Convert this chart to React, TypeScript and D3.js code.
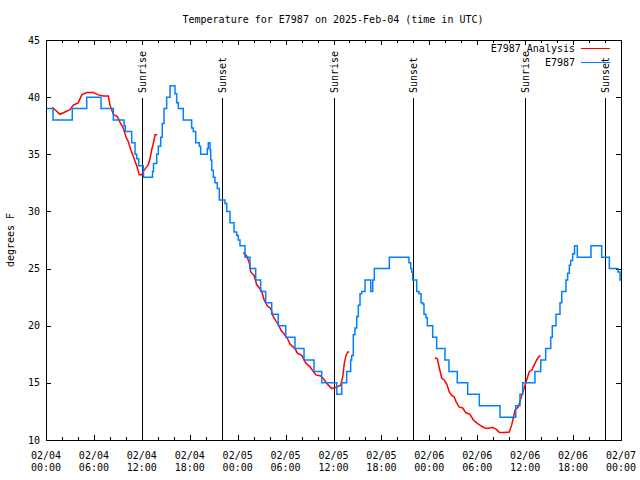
import React from "react";
import * as d3 from "d3";

// Hours since 2025-02-04 00:00 UTC
const obsHours = [0, 0.88, 3.29, 5.1, 6.89, 8.43, 9.77, 9.93, 10.73, 11.15, 11.36, 11.61, 12.18, 12.21, 13.34, 13.46, 13.86, 14.06, 14.36, 14.56, 14.78, 15.11, 15.53, 16.15, 16.36, 16.57, 17.19, 18.24, 18.44, 18.75, 19.2, 19.37, 20.2, 20.32, 20.54, 20.62, 20.75, 20.95, 21.16, 21.45, 21.7, 22.41, 22.63, 23.04, 23.54, 23.88, 24.08, 24.29, 24.92, 25.54, 26.26, 26.88, 27.51, 28.26, 29.09, 30.02, 31.18, 32.31, 33.56, 34.52, 36.4, 37.03, 37.65, 38.15, 38.28, 38.48, 38.69, 38.91, 39.11, 39.32, 39.53, 39.95, 40.66, 40.91, 41.11, 42.99, 45.45, 45.67, 45.79, 45.92, 46.42, 46.71, 46.96, 47.17, 47.33, 47.58, 47.75, 48.42, 48.92, 49.96, 50.46, 51.5, 52.8, 54.26, 56.85, 58.82, 59.35, 59.69, 61.23, 61.95, 62.57, 63.2, 63.4, 63.86, 64.36, 64.58, 65.11, 65.32, 65.53, 65.7, 65.95, 66.18, 66.53, 68.24, 69.58, 70.54, 71.63, 71.88, 72];
const obsTemps = [39, 38, 39, 40, 39, 38, 37.5, 37, 36, 35, 34.6, 34, 33.5, 33, 33.5, 34.2, 35, 35.7, 36.5, 37.7, 39, 40, 41, 40.3, 39.5, 39, 38, 37.3, 37, 36, 35.7, 35, 35.5, 36, 35.4, 34.5, 33.6, 33, 32.5, 32, 31, 30.7, 30, 29, 28.2, 27.9, 27.5, 27, 26, 25, 24, 23, 22, 21, 20, 19, 18, 17, 16, 15, 14, 15, 16, 17, 17.4, 19.2, 19.8, 20.8, 21.8, 22.8, 23, 24, 23, 24, 25, 26, 25.5, 25, 24.7, 24, 23, 22.8, 22, 21.9, 21, 20.7, 20, 19, 18, 17, 16, 15, 14, 13, 12, 13, 14, 15, 16, 17, 18, 19, 20, 21, 22, 23, 24, 24.6, 25.3, 25.7, 26.3, 27, 26, 27, 26, 25, 24.7, 24, 24];

const anaHours1 = [0.79, 1.13, 1.75, 2.38, 3.01, 3.42, 4.04, 4.47, 5.1, 5.92, 6.55, 7.18, 7.8, 8.01, 8.43, 8.93, 9.27, 9.68, 10.02, 10.31, 10.61, 10.93, 11.36, 11.68, 11.98, 12.27, 12.61, 12.81, 13.02, 13.24, 13.52, 13.65, 13.94];
const anaTemps1 = [39.1, 38.9, 38.5, 38.7, 38.9, 39.3, 39.5, 40.2, 40.4, 40.4, 40.2, 40.1, 40.1, 39.3, 38.5, 38.3, 37.8, 37.3, 36.5, 36.1, 35.4, 34.8, 34.0, 33.2, 33.2, 33.6, 33.9, 34.1, 34.6, 35.4, 36.2, 36.7, 36.7];
const anaHours2 = [24.71, 25.13, 25.46, 25.63, 26.05, 26.38, 26.71, 27.01, 27.34, 27.76, 28.14, 28.46, 28.8, 29.09, 29.43, 29.8, 30.22, 30.55, 31.18, 31.47, 32.02, 32.56, 33.06, 33.47, 33.81, 34.4, 34.81, 35.35, 35.78, 36.19, 36.6, 36.9, 37.15, 37.35, 37.57, 37.78, 37.98];
const anaTemps2 = [26.4, 26.1, 25.5, 24.7, 24.4, 23.6, 23.3, 23.0, 22.2, 21.7, 21.5, 20.8, 20.4, 20.1, 19.6, 19.3, 18.9, 18.4, 18.0, 17.6, 17.4, 16.7, 16.4, 16.0, 15.7, 15.6, 15.3, 14.8, 14.5, 14.6, 14.7, 14.8, 15.5, 16.7, 17.4, 17.7, 17.7];
const anaHours3 = [48.71, 49.0, 49.25, 49.55, 49.87, 50.18, 50.5, 50.8, 51.09, 51.34, 51.72, 52.18, 52.55, 53.09, 53.51, 54.01, 54.56, 55.1, 55.94, 56.44, 56.76, 57.35, 58.01, 58.31, 58.51, 58.72, 59.14, 59.57, 59.86, 60.19, 60.52, 60.82, 61.15, 61.44, 61.77, 61.94];
const anaTemps3 = [17.2, 17.1, 16.3, 15.4, 15.25, 14.9, 14.2, 13.9, 13.8, 13.35, 12.9, 12.8, 12.4, 12.25, 11.75, 11.45, 11.2, 11.0, 11.1, 10.9, 10.65, 10.65, 10.7, 11.3, 11.9, 12.6, 12.9, 13.9, 14.5, 15.25, 16.0, 16.1, 16.6, 17.0, 17.35, 17.35];

const eventHours = [12, 22, 36, 46, 60, 70];
const eventLabels = ["Sunrise", "Sunset", "Sunrise", "Sunset", "Sunrise", "Sunset"];

const xTickHours = [0, 6, 12, 18, 24, 30, 36, 42, 48, 54, 60, 66, 72];
const xTickDates = ["02/04", "02/04", "02/04", "02/04", "02/05", "02/05", "02/05", "02/05", "02/06", "02/06", "02/06", "02/06", "02/07"];
const xTickTimes = ["00:00", "06:00", "12:00", "18:00", "00:00", "06:00", "12:00", "18:00", "00:00", "06:00", "12:00", "18:00", "00:00"];
const yTicks = [10, 15, 20, 25, 30, 35, 40, 45];

const title = "Temperature for E7987 on 2025-Feb-04 (time in UTC)";
const yLabel = "degrees F";
const seriesNames = ["E7987 Analysis", "E7987"];
const seriesColors = ["#ff0000", "#0080ff"];

export default function App() {
  const W = 640, H = 480;
  const L = 46, R = 621, T = 40, B = 440;
  const x = d3.scaleLinear().domain([0, 72]).range([L, R]);
  const y = d3.scaleLinear().domain([10, 45]).range([B, T]);
  const font = "'DejaVu Sans Mono', 'Liberation Mono', monospace";

  const stepLine = d3.line<number>().x((_, i) => x(obsHours[i])).y((d) => y(d)).curve(d3.curveStepAfter);
  const mkLine = (hs: number[]) => d3.line<number>().x((_, i) => x(hs[i])).y((d) => y(d));

  const minorTicks = d3.range(0, 73, 2);

  return (
    <svg width={W} height={H} style={{ position: "absolute", left: 0, top: 0, background: "#fff" }} fontFamily={font} fontSize={10}>
      <rect x={0} y={0} width={W} height={H} fill="#fff" />
      <text x={333} y={23} textAnchor="middle">{title}</text>
      {/* ticks */}
      <g stroke="#000" strokeWidth={1} shapeRendering="crispEdges">
        {minorTicks.map((h) => {
          const major = h % 6 === 0;
          const len = major ? 5 : 3;
          const xx = Math.round(x(h)) + 0.5;
          return (
            <g key={h}>
              <line x1={xx} x2={xx} y1={B} y2={B - len} />
              <line x1={xx} x2={xx} y1={T} y2={T + len} />
            </g>
          );
        })}
        {yTicks.map((t) => {
          const yy = Math.round(y(t)) + 0.5;
          return (
            <g key={t}>
              <line x1={L} x2={L + 5} y1={yy} y2={yy} />
              <line x1={R} x2={R - 5} y1={yy} y2={yy} />
            </g>
          );
        })}
      </g>
      {/* y tick labels */}
      {yTicks.map((t) => (
        <text key={t} x={40} y={y(t)} dy="0.35em" textAnchor="end">{t}</text>
      ))}
      {/* x tick labels */}
      {xTickHours.map((h, i) => (
        <g key={h}>
          <text x={x(h)} y={459} textAnchor="middle">{xTickDates[i]}</text>
          <text x={x(h)} y={471} textAnchor="middle">{xTickTimes[i]}</text>
        </g>
      ))}
      <text transform={`translate(10,240) rotate(-90)`} dy="0.35em" textAnchor="middle">{yLabel}</text>
      {/* event lines */}
      {eventHours.map((h, i) => {
        const xx = Math.round(x(h)) + 0.5;
        return (
          <g key={i}>
            <line x1={xx} x2={xx} y1={98} y2={B} stroke="#000" strokeWidth={1} shapeRendering="crispEdges" />
            <text transform={`translate(${xx},93) rotate(-90)`} dy="0.35em" textAnchor="start">{eventLabels[i]}</text>
          </g>
        );
      })}
      {/* series: analysis first, observations on top */}
      <path d={mkLine(anaHours1)(anaTemps1) || ""} fill="none" stroke={seriesColors[0]} strokeWidth={1.5} />
      <path d={mkLine(anaHours2)(anaTemps2) || ""} fill="none" stroke={seriesColors[0]} strokeWidth={1.5} />
      <path d={mkLine(anaHours3)(anaTemps3) || ""} fill="none" stroke={seriesColors[0]} strokeWidth={1.5} />
      <path d={stepLine(obsTemps) || ""} fill="none" stroke={seriesColors[1]} strokeWidth={1.5} />
      {/* legend */}
      {seriesNames.map((n, i) => (
        <g key={n}>
          <text x={575} y={48 + i * 14} dy="0.35em" textAnchor="end">{n}</text>
          <line x1={581} x2={610} y1={48.5 + i * 14} y2={48.5 + i * 14} stroke={seriesColors[i]} strokeWidth={1.5} shapeRendering="crispEdges" />
        </g>
      ))}
      {/* frame */}
      <rect x={L + 0.5} y={T + 0.5} width={R - L} height={B - T} fill="none" stroke="#000" strokeWidth={1} shapeRendering="crispEdges" />
    </svg>
  );
}
